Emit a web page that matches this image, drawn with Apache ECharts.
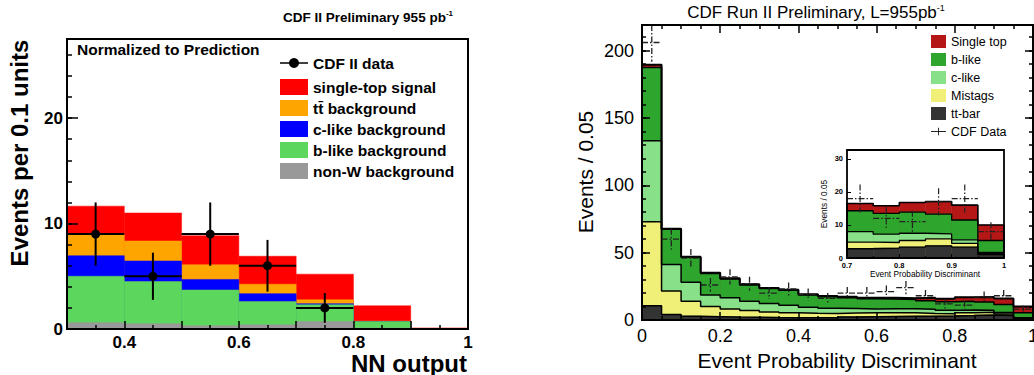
<!DOCTYPE html>
<html>
<head>
<meta charset="utf-8">
<script src="https://cdn.jsdelivr.net/npm/echarts@6/dist/echarts.min.js"></script>
<style>
  html, body { margin: 0; padding: 0; background: #fff; }
  #chart { width: 1034px; height: 375px; }
</style>
</head>
<body>
<div id="chart"></div>
<script>
// ---- left panel: NN output, events per 0.1 ----
const nnEdges = [0.3, 0.4, 0.5, 0.6, 0.7, 0.8, 0.9, 1.0];
const nnNonW = [0.6, 0.5, 0.3, 0.4, 0.7, 0.1, 0];
const nnBLike = [4.4, 4.0, 3.4, 2.2, 1.6, 0.6, 0];
const nnCLike = [1.95, 1.95, 1.0, 0.75, 0.1, 0.02, 0];
const nnTtbar = [2.05, 1.9, 1.4, 0.9, 0.37, 0.03, 0];
const nnSignal = [2.65, 2.65, 2.75, 2.65, 2.43, 1.45, 0.1];
const nnData = [9, 5, 9, 6, 2, 0, 0];

// ---- right panel: event probability discriminant, events per 0.05 ----
const epdEdges = [0, 0.05, 0.1, 0.15, 0.2, 0.25, 0.3, 0.35, 0.4, 0.45, 0.5,
  0.55, 0.6, 0.65, 0.7, 0.75, 0.8, 0.85, 0.9, 0.95, 1.0];
const epdTtbar = [10.5, 4.0, 2.8, 2.5, 2.2, 2.0, 1.8, 1.7, 1.7, 1.7, 2.3, 2.5, 2.6, 2.7, 2.8, 3.0, 3.3, 3.7, 3.3, 1.0];
const epdMistag = [62.5, 17.6, 11.2, 7.5, 6.0, 5.0, 4.2, 3.7, 3.3, 3.1, 2.9, 2.8, 2.8, 2.6, 2.0, 1.7, 2.0, 2.1, 1.1, 0.3];
const epdCLike = [60, 19.6, 14.0, 8.5, 8.3, 7.0, 6.2, 5.5, 4.4, 3.9, 3.3, 2.9, 2.9, 3.0, 3.2, 2.5, 2.2, 1.5, 1.1, 0.4];
const epdBLike = [54.5, 26.1, 18.6, 16.1, 14.0, 12.0, 11.1, 11.1, 9.2, 8.6, 8.1, 7.6, 7.3, 7.0, 6.3, 6.3, 6.4, 6.0, 6.0, 3.6];
const epdSingleTop = [2.0, 0.5, 0.4, 0.4, 0.5, 0.5, 0.5, 0.5, 0.5, 0.6, 0.7, 0.8, 0.9, 0.9, 2.2, 2.3, 2.9, 3.8, 4.5, 4.7];
const epdData = [206, 60, 46, 26, 32, 27, 20, 23, 19, 16, 20, 20, 21, 24, 18, 12, 11, 17, 18, 8];
const insetFrom = 14; // inset shows 0.7 - 1.0

const FONT = 'Liberation Sans, Arial, sans-serif';

function cumulate(layers) {
  const out = [];
  let run = layers[0].map(() => 0);
  layers.forEach(l => {
    run = run.map((v, i) => v + l[i]);
    out.push(run);
  });
  return out;
}

function fillSeries(name, color, edges, tops, xi, yi) {
  return {
    type: 'custom', name: name, xAxisIndex: xi, yAxisIndex: yi,
    itemStyle: { color: color }, silent: true, z: 2,
    data: tops.map((t, i) => [edges[i], edges[i + 1], t]),
    renderItem: function (params, api) {
      const a = api.coord([api.value(0), api.value(2)]);
      const b = api.coord([api.value(1), 0]);
      return {
        type: 'rect',
        shape: { x: a[0], y: a[1], width: b[0] - a[0], height: b[1] - a[1] },
        style: { fill: color, stroke: color, lineWidth: 0.5 }
      };
    }
  };
}

function outlineSeries(edges, cum, xi, yi, width) {
  const n = cum.length;
  const pts = [[edges[0], 0]];
  cum.forEach((v, i) => pts.push([edges[i], v]));
  pts.push([edges[n], cum[n - 1]]);
  pts.push([edges[n], 0]);
  return {
    type: 'line', step: 'end', xAxisIndex: xi, yAxisIndex: yi, data: pts,
    symbol: 'none', silent: true, z: 3,
    lineStyle: { color: '#000', width: width }
  };
}

function crossSeries(name, edges, counts, xi, yi, width, dash) {
  return {
    type: 'custom', name: name, xAxisIndex: xi, yAxisIndex: yi,
    itemStyle: { color: '#222' }, silent: true, z: 4,
    data: counts.map((c, i) => [edges[i], edges[i + 1], c]),
    renderItem: function (params, api) {
      const c = api.value(2);
      if (!c) return null;
      const e = Math.sqrt(c);
      const l = api.coord([api.value(0), c]);
      const r = api.coord([api.value(1), c]);
      const cx = (l[0] + r[0]) / 2;
      const top = Math.max(api.coord([api.value(0), c + e])[1], params.coordSys.y);
      const bot = api.coord([api.value(0), c - e])[1];
      const st = { stroke: '#222', lineWidth: width, lineDash: dash };
      return {
        type: 'group', children: [
          { type: 'line', shape: { x1: l[0], y1: l[1], x2: r[0], y2: r[1] }, style: st },
          { type: 'line', shape: { x1: cx, y1: top, x2: cx, y2: bot }, style: st }
        ]
      };
    }
  };
}

function dotSeries(name, edges, counts, xi, yi) {
  return {
    type: 'custom', name: name, xAxisIndex: xi, yAxisIndex: yi,
    itemStyle: { color: '#000' }, silent: true, z: 4,
    data: counts.map((c, i) => [edges[i], edges[i + 1], c]),
    renderItem: function (params, api) {
      const c = api.value(2);
      if (!c) return null;
      const e = Math.sqrt(c);
      const l = api.coord([api.value(0), c]);
      const r = api.coord([api.value(1), c]);
      const cx = (l[0] + r[0]) / 2;
      const top = api.coord([api.value(0), c + e])[1];
      const bot = api.coord([api.value(0), c - e])[1];
      const st = { stroke: '#000', lineWidth: 2 };
      return {
        type: 'group', children: [
          { type: 'line', shape: { x1: l[0], y1: l[1], x2: r[0], y2: r[1] }, style: st },
          { type: 'line', shape: { x1: cx, y1: top, x2: cx, y2: bot }, style: st },
          { type: 'circle', shape: { cx: cx, cy: l[1], r: 4.5 }, style: { fill: '#000' } }
        ]
      };
    }
  };
}

function valAxis(o) {
  return {
    type: 'value', gridIndex: o.grid, position: o.pos, min: o.min, max: o.max,
    interval: o.interval, z: 10,
    axisLine: { show: false, onZero: false },
    axisTick: { show: true, inside: true, length: o.len, lineStyle: { color: '#000', width: o.tw || 1.5 } },
    minorTick: o.minor ? { show: true, splitNumber: o.minor, length: o.minorLen,
      lineStyle: { color: '#000', width: o.tw || 1.5 } } : { show: false },
    splitLine: { show: false }, minorSplitLine: { show: false },
    axisLabel: o.label ? Object.assign({
      show: true, color: '#000', fontFamily: FONT, showMaxLabel: o.showMax !== false ? null : false
    }, o.label) : { show: false }
  };
}

const nnCum = cumulate([nnNonW, nnBLike, nnCLike, nnTtbar, nnSignal]);
const epdCum = cumulate([epdTtbar, epdMistag, epdCLike, epdBLike, epdSingleTop]);
const insetEdges = epdEdges.slice(insetFrom);
const insetCum = epdCum.map(c => c.slice(insetFrom));
const insetData = epdData.slice(insetFrom);

const nnColors = ['#999999', '#5cd65c', '#0000ff', '#ffa500', '#ff0000'];
const nnNames = ['non-W background', 'b-like background', 'c-like background', 'tt\u0304 background', 'single-top signal'];
const epdColors = ['#333333', '#f0f078', '#88e088', '#2ea62e', '#b51616'];
const epdNames = ['tt-bar', 'Mistags', 'c-like', 'b-like', 'Single top'];

const series = [];
// left fills, top layer first so lower layers paint over it
for (let k = 4; k >= 0; k--) series.push(fillSeries(nnNames[k], nnColors[k], nnEdges, nnCum[k], 0, 0));
series.push(dotSeries('CDF II data', nnEdges, nnData, 0, 0));
// right main
for (let k = 4; k >= 0; k--) series.push(fillSeries(epdNames[k], epdColors[k], epdEdges, epdCum[k], 1, 2));
for (let k = 0; k < 5; k++) series.push(outlineSeries(epdEdges, epdCum[k], 1, 2, k === 4 ? 2 : 1.5));
series.push(crossSeries('CDF Data', epdEdges, epdData, 1, 2, 1.3, [6, 2, 1.5, 2]));
// inset
for (let k = 4; k >= 0; k--) series.push(fillSeries(epdNames[k], epdColors[k], insetEdges, insetCum[k], 3, 6));
for (let k = 0; k < 5; k++) series.push(outlineSeries(insetEdges, insetCum[k], 3, 6, k === 4 ? 1.6 : 1.3));
series.push(crossSeries('CDF Data', insetEdges, insetData, 3, 6, 1.2, [6, 2, 1.5, 2]));

const gridBase = { show: true, borderColor: '#000', backgroundColor: 'transparent', z: 10,
  containLabel: false, outerBoundsMode: 'none' };

const leftLegendText = { fontFamily: FONT, fontWeight: 'bold', fontSize: 15.5, color: '#000' };

const option = {
  animation: false,
  grid: [
    Object.assign({ left: 67, right: 566, top: 39, bottom: 46, borderWidth: 2 }, gridBase),
    Object.assign({ left: 642, right: 1, top: 25, bottom: 55, borderWidth: 2 }, gridBase),
    Object.assign({ left: 847, right: 30, top: 150, bottom: 117, borderWidth: 1.8 }, gridBase)
  ],
  xAxis: [
    valAxis({ grid: 0, pos: 'bottom', min: 0.3, max: 1, interval: 0.1, len: 8, minor: 2, minorLen: 4,
      label: { fontSize: 17, fontWeight: 'bold', margin: 5,
        formatter: v => (Math.round(v * 10) % 2 === 0 ? String(+v.toFixed(1)) : '') } }),
    valAxis({ grid: 1, pos: 'bottom', min: 0, max: 1, interval: 0.2, len: 8, minor: 4, minorLen: 4,
      label: { fontSize: 18, margin: 7 } }),
    valAxis({ grid: 1, pos: 'top', min: 0, max: 1, interval: 0.2, len: 8, minor: 4, minorLen: 4 }),
    valAxis({ grid: 2, pos: 'bottom', min: 0.7, max: 1, interval: 0.1, len: 4, minor: 2, minorLen: 2, tw: 1,
      label: { fontSize: 7.5, fontWeight: 'bold', margin: 3 } })
  ],
  yAxis: [
    valAxis({ grid: 0, pos: 'left', min: 0, max: 27.5, interval: 10, len: 11, showMax: false,
      label: { fontSize: 17, fontWeight: 'bold', margin: 4 } }),
    valAxis({ grid: 0, pos: 'left', min: 0, max: 27.5, interval: 2, len: 5 }),
    valAxis({ grid: 1, pos: 'left', min: 0, max: 219, interval: 50, len: 8, showMax: false,
      label: { fontSize: 18, margin: 8 } }),
    valAxis({ grid: 1, pos: 'left', min: 0, max: 219, interval: 10, len: 4 }),
    valAxis({ grid: 1, pos: 'right', min: 0, max: 219, interval: 50, len: 8 }),
    valAxis({ grid: 1, pos: 'right', min: 0, max: 219, interval: 10, len: 4 }),
    valAxis({ grid: 2, pos: 'left', min: 0, max: 32.7, interval: 10, len: 4, tw: 1, showMax: false,
      label: { fontSize: 7.5, fontWeight: 'bold', margin: 4 } })
  ],
  legend: [
    {
      orient: 'vertical', left: 280, top: 55, padding: 0, itemWidth: 28, itemHeight: 16,
      textStyle: leftLegendText,
      data: [{ name: 'CDF II data', icon: 'path://M0,4.2H28V5.8H0Z M14,0A5,5 0 1,1 13.99,0Z' }]
    },
    {
      orient: 'vertical', left: 280, top: 79, padding: 0, itemWidth: 28, itemHeight: 16, itemGap: 5,
      textStyle: leftLegendText,
      data: [
        { name: 'single-top signal', icon: 'rect' },
        { name: 'tt\u0304 background', icon: 'rect' },
        { name: 'c-like background', icon: 'rect' },
        { name: 'b-like background', icon: 'rect' },
        { name: 'non-W background', icon: 'rect' }
      ]
    },
    {
      orient: 'vertical', left: 931, top: 35, padding: 0, itemWidth: 15, itemHeight: 13, itemGap: 5,
      textStyle: { fontFamily: FONT, fontSize: 12.5, color: '#000' },
      data: [
        { name: 'Single top', icon: 'rect' },
        { name: 'b-like', icon: 'rect' },
        { name: 'c-like', icon: 'rect' },
        { name: 'Mistags', icon: 'rect' },
        { name: 'tt-bar', icon: 'rect' },
        { name: 'CDF Data', icon: 'path://M0,3.5H16V4.5H0Z M7.5,0H8.5V8H7.5Z' }
      ]
    }
  ],
  graphic: [
    { type: 'text', x: 453, y: 17, style: { text: 'CDF II Preliminary 955 pb{s|-1}', align: 'right',
      verticalAlign: 'middle', font: 'bold 13.5px ' + FONT, fill: '#000',
      rich: { s: { fontSize: 8, fontWeight: 'bold', fontFamily: FONT, verticalAlign: 'top', padding: [0, 0, 8, 0] } } } },
    { type: 'text', x: 77, y: 49, style: { text: 'Normalized to Prediction', align: 'left',
      verticalAlign: 'middle', font: 'bold 15.5px ' + FONT, fill: '#000' } },
    { type: 'text', x: 19, y: 153, rotation: Math.PI / 2, style: { text: 'Events per 0.1 units',
      align: 'center', verticalAlign: 'middle', font: 'bold 24px ' + FONT, fill: '#000' } },
    { type: 'text', x: 467, y: 363, style: { text: 'NN output', align: 'right',
      verticalAlign: 'middle', font: 'bold 24px ' + FONT, fill: '#000' } },
    { type: 'text', x: 816, y: 12, style: { text: 'CDF Run II Preliminary, L=955pb{s|-1}', align: 'center',
      verticalAlign: 'middle', font: '17px ' + FONT, fill: '#000',
      rich: { s: { fontSize: 9, fontFamily: FONT, verticalAlign: 'top', padding: [0, 0, 9, 0] } } } },
    { type: 'text', x: 585, y: 172, rotation: Math.PI / 2, style: { text: 'Events / 0.05',
      align: 'center', verticalAlign: 'middle', font: '21px ' + FONT, fill: '#000' } },
    { type: 'text', x: 837, y: 360, style: { text: 'Event Probability Discriminant',
      align: 'center', verticalAlign: 'middle', font: '21px ' + FONT, fill: '#000' } },
    { type: 'text', x: 824, y: 204, rotation: Math.PI / 2, style: { text: 'Events / 0.05',
      align: 'center', verticalAlign: 'middle', font: '8.3px ' + FONT, fill: '#000' } },
    { type: 'text', x: 925, y: 274, style: { text: 'Event Probability Discriminant',
      align: 'center', verticalAlign: 'middle', font: '8.3px ' + FONT, fill: '#000' } }
  ],
  series: series
};

const chart = echarts.init(document.getElementById('chart'), null, { renderer: 'svg' });
chart.setOption(option);
</script>
</body>
</html>
